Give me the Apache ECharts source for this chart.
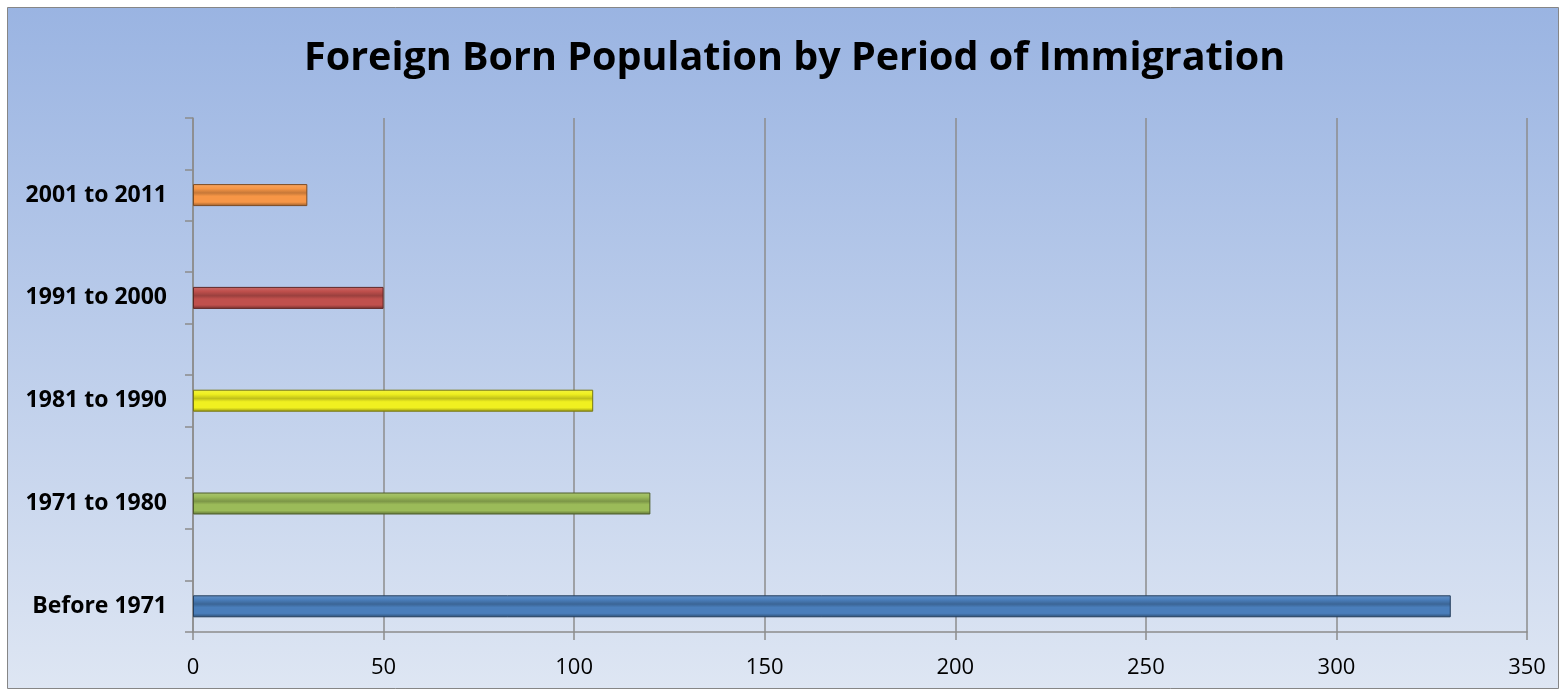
<!DOCTYPE html>
<html>
<head>
<meta charset="utf-8">
<script src="https://cdn.jsdelivr.net/npm/echarts@6/dist/echarts.min.js"></script>
<style>
  html, body { margin: 0; padding: 0; background: #fff; }
  #chart { width: 1566px; height: 696px; }
</style>
</head>
<body>
<div id="chart"></div>
<script>
// data
var periods = ['Before 1971', '1971 to 1980', '1981 to 1990', '1991 to 2000', '2001 to 2011'];
var population = [330, 120, 105, 50, 30];
var barColors = ['#4a7ebb', '#9bbb59', '#f0f020', '#c0504d', '#f79646'];
var valueTicks = [0, 50, 100, 150, 200, 250, 300, 350];

// the source axis has an empty slot after every category
var slots = [];
var slotValues = [];
periods.forEach(function (p, i) {
    slots.push(p, '');
    slotValues.push(i, null);
});

function shade(hex, f) {
    var n = parseInt(hex.slice(1), 16);
    var r = (n >> 16) & 255, g = (n >> 8) & 255, b = n & 255;
    function c(v) { return Math.max(0, Math.min(255, Math.round(f < 0 ? v * (1 + f) : v + (255 - v) * f))); }
    return 'rgb(' + c(r) + ',' + c(g) + ',' + c(b) + ')';
}

var myChart = echarts.init(document.getElementById('chart'));

var option = {
    animation: false,
    textStyle: { fontFamily: 'Open Sans' },
    graphic: [{
        type: 'rect',
        z: -10,
        shape: { x: 7.5, y: 7.5, width: 1551, height: 681 },
        style: {
            fill: new echarts.graphic.LinearGradient(0, 0, 0, 1, [
                { offset: 0, color: '#9ab4e2' },
                { offset: 1, color: '#dee6f3' }
            ]),
            stroke: '#868686',
            lineWidth: 1
        }
    }],
    title: {
        text: 'Foreign Born Population by Period of Immigration',
        left: 299,
        top: 34,
        textStyle: { fontSize: 39.5, fontWeight: 'bold', color: '#000', fontFamily: 'Open Sans' }
    },
    grid: { left: 193, right: 39, top: 118, bottom: 64 },
    xAxis: {
        type: 'value',
        min: 0,
        max: 350,
        interval: 50,
        axisLine: { show: true, lineStyle: { color: '#8c8c8c', width: 1.5 } },
        axisTick: { show: true, length: 8, lineStyle: { color: '#8c8c8c', width: 1.5 } },
        axisLabel: {
            margin: 25, fontSize: 22, color: '#000',
            formatter: function (v) { return valueTicks.indexOf(v) >= 0 ? String(v) : ''; }
        },
        splitLine: { show: true, lineStyle: { color: '#8c8c8c', width: 1.5 } }
    },
    yAxis: {
        type: 'category',
        data: slots,
        axisLine: { show: true, lineStyle: { color: '#8c8c8c', width: 1.5 } },
        axisTick: { show: true, length: 8, interval: 0, lineStyle: { color: '#8c8c8c', width: 1.5 } },
        axisLabel: { margin: 26, interval: 0, fontSize: 23, fontWeight: 'bold', color: '#000' }
    },
    series: [{
        type: 'bar',
        barWidth: 22,
        data: slotValues.map(function (k) {
            if (k === null) return null;
            var c = barColors[k];
            return {
                value: population[k],
                itemStyle: {
                    color: new echarts.graphic.LinearGradient(0, 0, 0, 1, [
                        { offset: 0, color: shade(c, 0.15) },
                        { offset: 0.2, color: c },
                        { offset: 0.4, color: shade(c, -0.2) },
                        { offset: 0.55, color: c },
                        { offset: 0.82, color: c },
                        { offset: 1, color: shade(c, -0.4) }
                    ]),
                    borderColor: shade(c, -0.5),
                    borderWidth: 1
                }
            };
        })
    }]
};

myChart.setOption(option);
</script>
</body>
</html>
